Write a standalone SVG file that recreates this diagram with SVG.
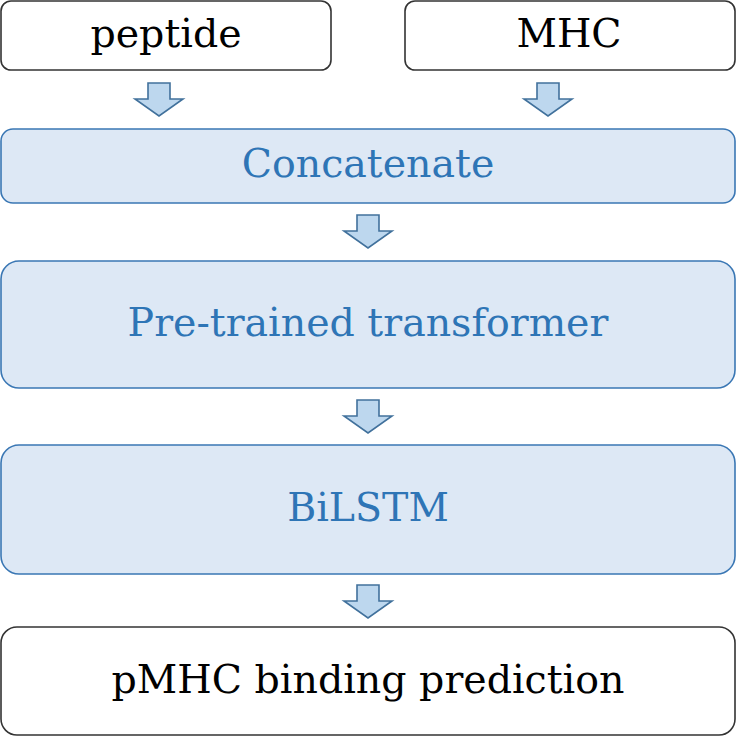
<svg xmlns="http://www.w3.org/2000/svg" width="736" height="736" viewBox="0 0 736 736">
<defs>
<style>
.io{fill:#ffffff;stroke:#333333;stroke-width:1.6}
.blk{fill:#dde8f5;stroke:#3a77b4;stroke-width:1.6}
.arr{fill:#bdd7ee;stroke:#41719c;stroke-width:1.6;stroke-linejoin:miter}
.t{font-family:"DejaVu Serif","Liberation Serif",serif;font-size:39.5px;text-anchor:middle}
.tb{fill:#000000}
.tc{fill:#2e75b6}
</style>
<path id="ar" d="M-11,0 H11 V16 H24 L0,33 L-24,16 H-11 Z"/>
</defs>
<g id="peptide">
<rect class="io" x="1" y="1" width="330" height="69" rx="10"/>
<text class="t tb" x="166" y="47">peptide</text>
</g>
<g id="mhc">
<rect class="io" x="405" y="1" width="330" height="69" rx="10"/>
<text class="t tb" x="569" y="47">MHC</text>
</g>
<g id="concatenate">
<rect class="blk" x="1" y="129" width="734" height="74" rx="12"/>
<text class="t tc" x="368" y="177">Concatenate</text>
</g>
<g id="transformer">
<rect class="blk" x="1" y="261" width="734" height="127" rx="18"/>
<text class="t tc" x="368" y="336">Pre-trained transformer</text>
</g>
<g id="bilstm">
<rect class="blk" x="1" y="445" width="734" height="129" rx="18"/>
<text class="t tc" x="368" y="521">BiLSTM</text>
</g>
<g id="prediction">
<rect class="io" x="1" y="627" width="734" height="108" rx="16"/>
<text class="t tb" x="368" y="693">pMHC binding prediction</text>
</g>
<g id="connectors">
<use href="#ar" class="arr" x="159" y="83"/>
<use href="#ar" class="arr" x="548" y="83"/>
<use href="#ar" class="arr" x="368" y="215"/>
<use href="#ar" class="arr" x="368" y="400"/>
<use href="#ar" class="arr" x="368" y="585"/>
</g>
</svg>
